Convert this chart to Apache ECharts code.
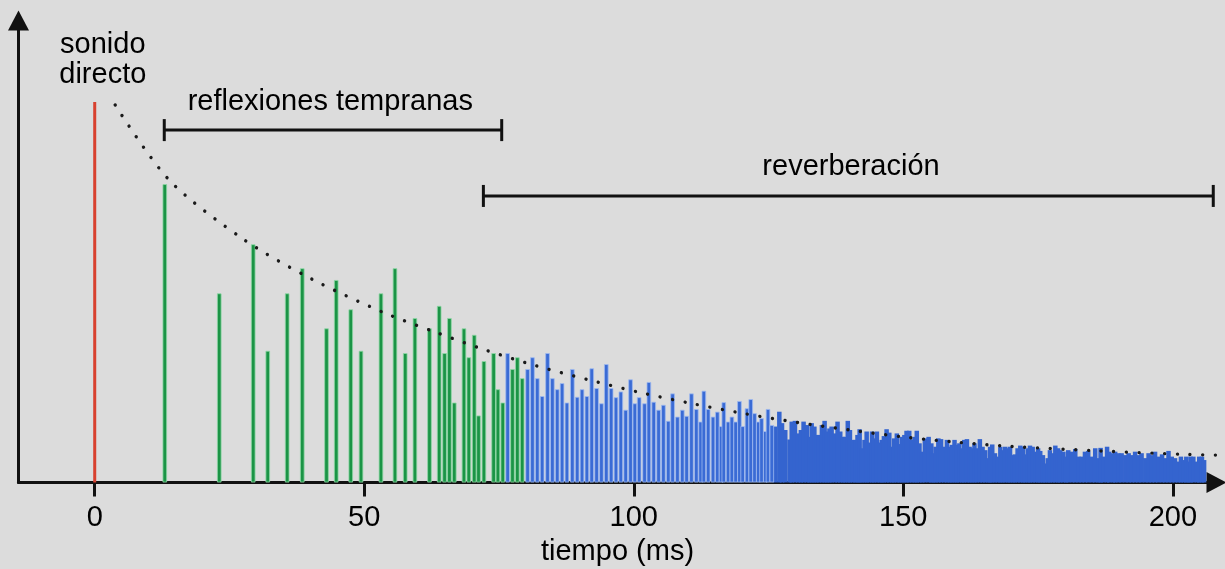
<!DOCTYPE html>
<html><head><meta charset="utf-8">
<script src="https://cdn.jsdelivr.net/npm/echarts@6/dist/echarts.min.js"></script>
<style>html,body{margin:0;padding:0;background:#dcdcdc}#c{width:1225px;height:569px}</style>
</head><body><div id="c"></div>
<script>
// ---- data (time in ms, amplitude in % of direct sound) ----
const directSound = [[0, 100]];
const earlyReflections = [[13.0,78.4],[23.1,49.7],[29.4,62.6],[32.1,34.6],[35.7,49.7],[38.5,56.3],[43.0,40.5],[44.8,53.2],[47.5,45.5],[49.4,34.6],[53.1,49.7],[55.7,56.3],[57.6,34.0],[59.4,43.2],[62.1,40.5],[63.9,46.4],[64.9,34.0],[65.8,43.2],[66.7,21.0],[68.5,40.5],[69.4,32.9],[70.4,38.8],[71.2,17.6],[72.2,31.9],[74.0,34.0],[74.8,24.5],[75.7,21.0],[77.5,29.8],[78.4,32.9],[79.3,27.4]];
const reverbEarly = [[76.6,34.0],[80.3,29.8],[81.2,32.9],[82.1,27.4],[83.0,22.7],[84.0,34.0],[84.9,27.4],[85.8,24.5],[86.7,26.1],[87.6,21.0],[88.6,29.8],[89.5,22.5],[90.4,24.5],[91.3,22.7],[92.2,30.0],[93.1,24.8],[94.0,20.8],[94.9,31.1],[95.8,24.8],[96.7,22.4],[97.6,23.9],[98.5,19.1],[99.4,27.1],[100.2,20.8],[101.0,22.4],[102.0,20.8],[102.8,26.4],[103.7,21.2],[104.6,19.1],[105.5,20.4],[106.4,16.2],[107.2,23.4],[108.1,17.3],[109.0,19.1],[109.8,17.5],[110.7,23.4],[111.6,19.3],[112.4,16.0],[113.0,24.1],[113.8,19.3],[114.7,17.3],[115.5,18.6],[116.2,14.8],[116.7,21.1],[117.5,16.0],[118.2,17.3],[118.9,16.0],[119.6,21.4],[120.2,14.8],[121.0,19.5],[121.7,21.9],[122.4,18.2],[123.1,16.0],[123.7,16.9],[124.4,13.5],[124.9,19.3],[125.6,15.1]];
const reverbTail = [[126.2,14.7],[127.0,18.6],[127.5,15.6],[128.1,13.8],[128.9,11.3],[129.3,16.0],[129.9,16.2],[130.5,12.9],[131.0,13.8],[131.5,16.0],[132.1,15.1],[132.6,12.0],[133.0,15.6],[133.5,14.7],[133.9,12.5],[134.4,12.5],[134.9,15.1],[135.4,16.2],[135.8,13.4],[136.3,14.2],[136.7,14.7],[137.3,12.9],[137.8,16.0],[138.3,13.4],[138.8,12.0],[139.2,12.0],[139.7,16.2],[140.1,13.8],[140.6,11.2],[141.1,11.2],[141.5,12.5],[141.9,14.0],[142.3,9.0],[142.8,11.2],[143.2,13.4],[143.7,10.5],[144.2,13.4],[144.6,11.6],[145.1,13.4],[145.6,10.5],[146.0,11.2],[146.4,12.2],[146.9,14.0],[147.4,13.1],[147.9,9.4],[148.3,11.6],[148.8,12.9],[149.3,10.1],[149.7,12.0],[150.2,12.5],[150.6,13.6],[151.1,13.6],[151.6,11.3],[152.1,12.0],[152.5,13.6],[153.0,10.3],[153.5,8.1],[154.0,11.6],[154.7,12.0],[155.2,10.3],[155.6,7.7],[156.0,9.4],[156.5,11.6],[157.0,11.4],[157.6,9.4],[158.1,11.2],[158.6,9.4],[159.0,9.9],[159.5,11.2],[159.9,9.9],[160.4,10.3],[160.9,9.0],[161.3,11.2],[161.8,11.4],[162.3,9.4],[162.7,9.0],[163.2,10.3],[163.6,9.0],[164.2,11.4],[164.7,9.4],[165.2,8.5],[165.7,6.4],[166.1,9.4],[166.5,10.0],[167.0,7.7],[167.5,6.8],[168.0,9.4],[168.4,8.5],[168.9,9.4],[169.4,9.0],[169.8,9.4],[170.3,7.2],[170.7,7.4],[171.2,9.0],[171.7,9.7],[172.2,9.4],[172.6,7.4],[173.1,9.0],[173.5,9.7],[174.0,9.4],[174.5,8.1],[175.0,9.0],[175.4,8.3],[175.9,7.2],[176.3,5.0],[176.8,6.4],[177.2,8.5],[177.7,7.7],[178.2,9.7],[178.7,9.0],[179.1,8.5],[179.7,8.1],[180.2,6.8],[180.6,8.5],[181.3,8.1],[181.9,8.8],[182.5,6.8],[183.1,6.8],[183.7,8.1],[184.3,8.3],[185.0,6.8],[185.6,9.0],[186.2,6.4],[186.6,9.1],[187.1,6.8],[187.8,9.4],[188.2,8.1],[188.9,7.7],[189.3,8.1],[189.9,7.7],[190.5,7.7],[191.2,7.2],[191.8,7.7],[192.4,7.2],[193.0,8.1],[193.6,7.2],[194.2,7.7],[194.9,6.4],[195.5,7.7],[196.1,7.2],[196.7,8.1],[197.3,6.8],[198.0,7.4],[198.6,6.4],[199.2,8.3],[199.8,6.8],[200.4,6.4],[201.0,5.5],[201.5,6.8],[202.0,5.9],[202.5,6.8],[202.9,5.5],[203.3,6.8],[203.8,6.8],[204.5,5.5],[204.9,6.8],[205.4,6.8],[205.8,5.9]];
const envelope = [[3.8,99.2],[13.8,79.5],[27.4,64.1],[40.2,53.5],[53.7,44.6],[63.0,39.6],[72.3,34.9],[81.8,30.7],[91.3,27.1],[101.0,23.7],[110.6,20.8],[120.5,18.1],[130.2,15.8],[140.0,13.8],[149.8,12.0],[159.8,10.6],[169.7,9.5],[186.5,8.3],[201.9,7.4],[208.1,7.2]];
const xTicks = [0, 50, 100, 150, 200];
const earlyRange = [12.9, 75.5];
const reverbRange = [72.1, 207.5];
const texts = { direct: 'sonido\ndirecto', early: 'reflexiones tempranas', reverb: 'reverberación', axis: 'tiempo (ms)' };

// ---- chart ----
const FONT = '"Liberation Sans", Arial, sans-serif';
const INK = '#111111';
const chart = echarts.init(document.getElementById('c'), null, { renderer: 'canvas' });
const txt = { fontFamily: FONT, fontSize: 29, color: '#000000' };
const arrowLine = { show: true, onZero: false, symbol: ['none', 'triangle'], symbolSize: [21, 20], lineStyle: { color: INK, width: 3 } };
const option = {
  backgroundColor: '#dcdcdc',
  animation: false,
  grid: { left: 18.5, right: 8.5, top: 20.5, bottom: 86.5, outerBoundsMode: 'none' },
  xAxis: {
    type: 'value', min: -14.14, max: 208.1,
    name: texts.axis, nameLocation: 'middle', nameGap: 54, nameTextStyle: txt,
    axisLine: arrowLine,
    axisTick: { show: true, customValues: xTicks, length: 14, lineStyle: { color: INK, width: 3 } },
    axisLabel: Object.assign({ customValues: xTicks, margin: 21 }, txt),
    splitLine: { show: false }
  },
  yAxis: {
    type: 'value', min: 0, max: 121.4,
    axisLine: arrowLine,
    axisTick: { show: false }, axisLabel: { show: false }, splitLine: { show: false }
  },
  series: [
    { type: 'bar', name: 'tail', data: reverbTail, barWidth: 4.5, barGap: '-100%', silent: true,
      itemStyle: { color: '#3464cf' }, z: 2 },
    { type: 'bar', name: 'reverb', data: reverbEarly, barWidth: 4.5, barGap: '-100%', silent: true,
      itemStyle: { color: '#3a6bd5', borderColor: '#9fbaf0', borderWidth: 0.8 }, z: 2 },
    { type: 'bar', name: 'early', data: earlyReflections, barWidth: 4.5, barGap: '-100%', silent: true,
      itemStyle: { color: '#1b9446', borderColor: '#8fd8a6', borderWidth: 0.8 }, z: 3 },
    { type: 'line', name: 'direct', data: directSound.flatMap(d => [[d[0], 0], d]), symbol: 'none', silent: true,
      lineStyle: { color: '#d8412f', width: 3 }, z: 4 },
    { type: 'line', name: 'envelope', data: envelope, smooth: 0.3, symbol: 'none', silent: true,
      lineStyle: { color: '#1a1a1a', width: 3.4, type: [0.01, 12.7], cap: 'round' }, z: 5 },
    { type: 'line', name: 'earlyBracket', data: earlyRange.map(x => [x, 92.6]), symbol: 'rect', symbolSize: [3, 22], silent: true,
      itemStyle: { color: INK }, lineStyle: { color: INK, width: 3 }, z: 6 },
    { type: 'line', name: 'reverbBracket', data: reverbRange.map(x => [x, 75.3]), symbol: 'rect', symbolSize: [3, 22], silent: true,
      itemStyle: { color: INK }, lineStyle: { color: INK, width: 3 }, z: 6 },
    { type: 'scatter', name: 'notes', symbolSize: 1, silent: true, itemStyle: { color: 'transparent' },
      data: [
        { name: texts.direct, value: [1.5, 111.0] },
        { name: texts.early, value: [43.7, 100.0] },
        { name: texts.reverb, value: [140.3, 82.9] }
      ],
      label: Object.assign({ show: true, position: 'inside', formatter: p => p.name, lineHeight: 30, opacity: 1, textBorderWidth: 0 }, txt), z: 7 }
  ]
};
chart.setOption(option);
</script></body></html>
